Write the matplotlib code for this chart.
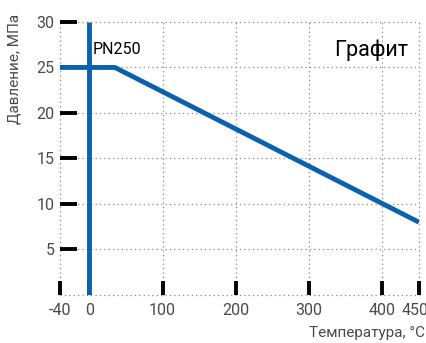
import matplotlib
matplotlib.use('Agg')
import matplotlib.pyplot as plt
import matplotlib.transforms as mtransforms

# data
temp = [-40, 35, 450]
pressure = [25, 25, 8]
xticks = [-40, 0, 100, 200, 300, 400, 450]
xlabels = ['-40', '0', '100', '200', '300', '400', '450']
yticks = [5, 10, 15, 20, 25, 30]

plt.rcParams['font.family'] = ['Liberation Sans Narrow', 'Roboto', 'DejaVu Sans']
plt.rcParams['axes.unicode_minus'] = False

fig = plt.figure(figsize=(4.27, 3.43), dpi=100)
ax = fig.add_axes([0.1405, 0.140, 0.981 - 0.1405, 0.936 - 0.140])
ax.set_xlim(-40, 450)
ax.set_ylim(0, 30)

# dotted grid
for x in xticks:
    ax.axvline(x, color='#888888', lw=0.9, ls=(0, (1, 2.5)), zorder=1, clip_on=False)
for y in [0] + yticks:
    ax.axhline(y, color='#888888', lw=0.9, ls=(0, (1, 2.5)), zorder=1, clip_on=False)

blue = '#0a62ad'
ax.plot([0, 0], [0, 30], color=blue, lw=3.5, solid_capstyle='butt', zorder=3)
ax.plot(temp, pressure, color=blue, lw=3.5, solid_capstyle='butt', zorder=3)

for s in ax.spines.values():
    s.set_visible(False)

ax.set_xticks(xticks)
ax.set_xticklabels(xlabels)
ax.set_yticks(yticks)
ax.tick_params(direction='in', width=2.8, color='black',
               labelcolor='#4a4a4a', labelsize=11.5)
ax.tick_params(axis='x', pad=6, length=10)
ax.tick_params(axis='y', pad=4, length=12)

lab = ax.get_xticklabels()[-1]
lab.set_transform(lab.get_transform() + mtransforms.ScaledTranslation(-4 / 100, 0, fig.dpi_scale_trans))

ax.text(4, 26.5, 'PN250', fontsize=11.5, color='black', zorder=4)
ax.text(0.97, 0.935, 'Графит', transform=ax.transAxes, fontsize=15.5,
        ha='right', va='top', color='black')

fig.text(0.995, 0.01, 'Температура, °C', ha='right', va='bottom',
         fontsize=11, color='#4a4a4a')
fig.text(0.035, 0.96, 'Давление, МПа', rotation=90, ha='center', va='top',
         fontsize=11, color='#4a4a4a')

fig.savefig('out.png', dpi=100)
